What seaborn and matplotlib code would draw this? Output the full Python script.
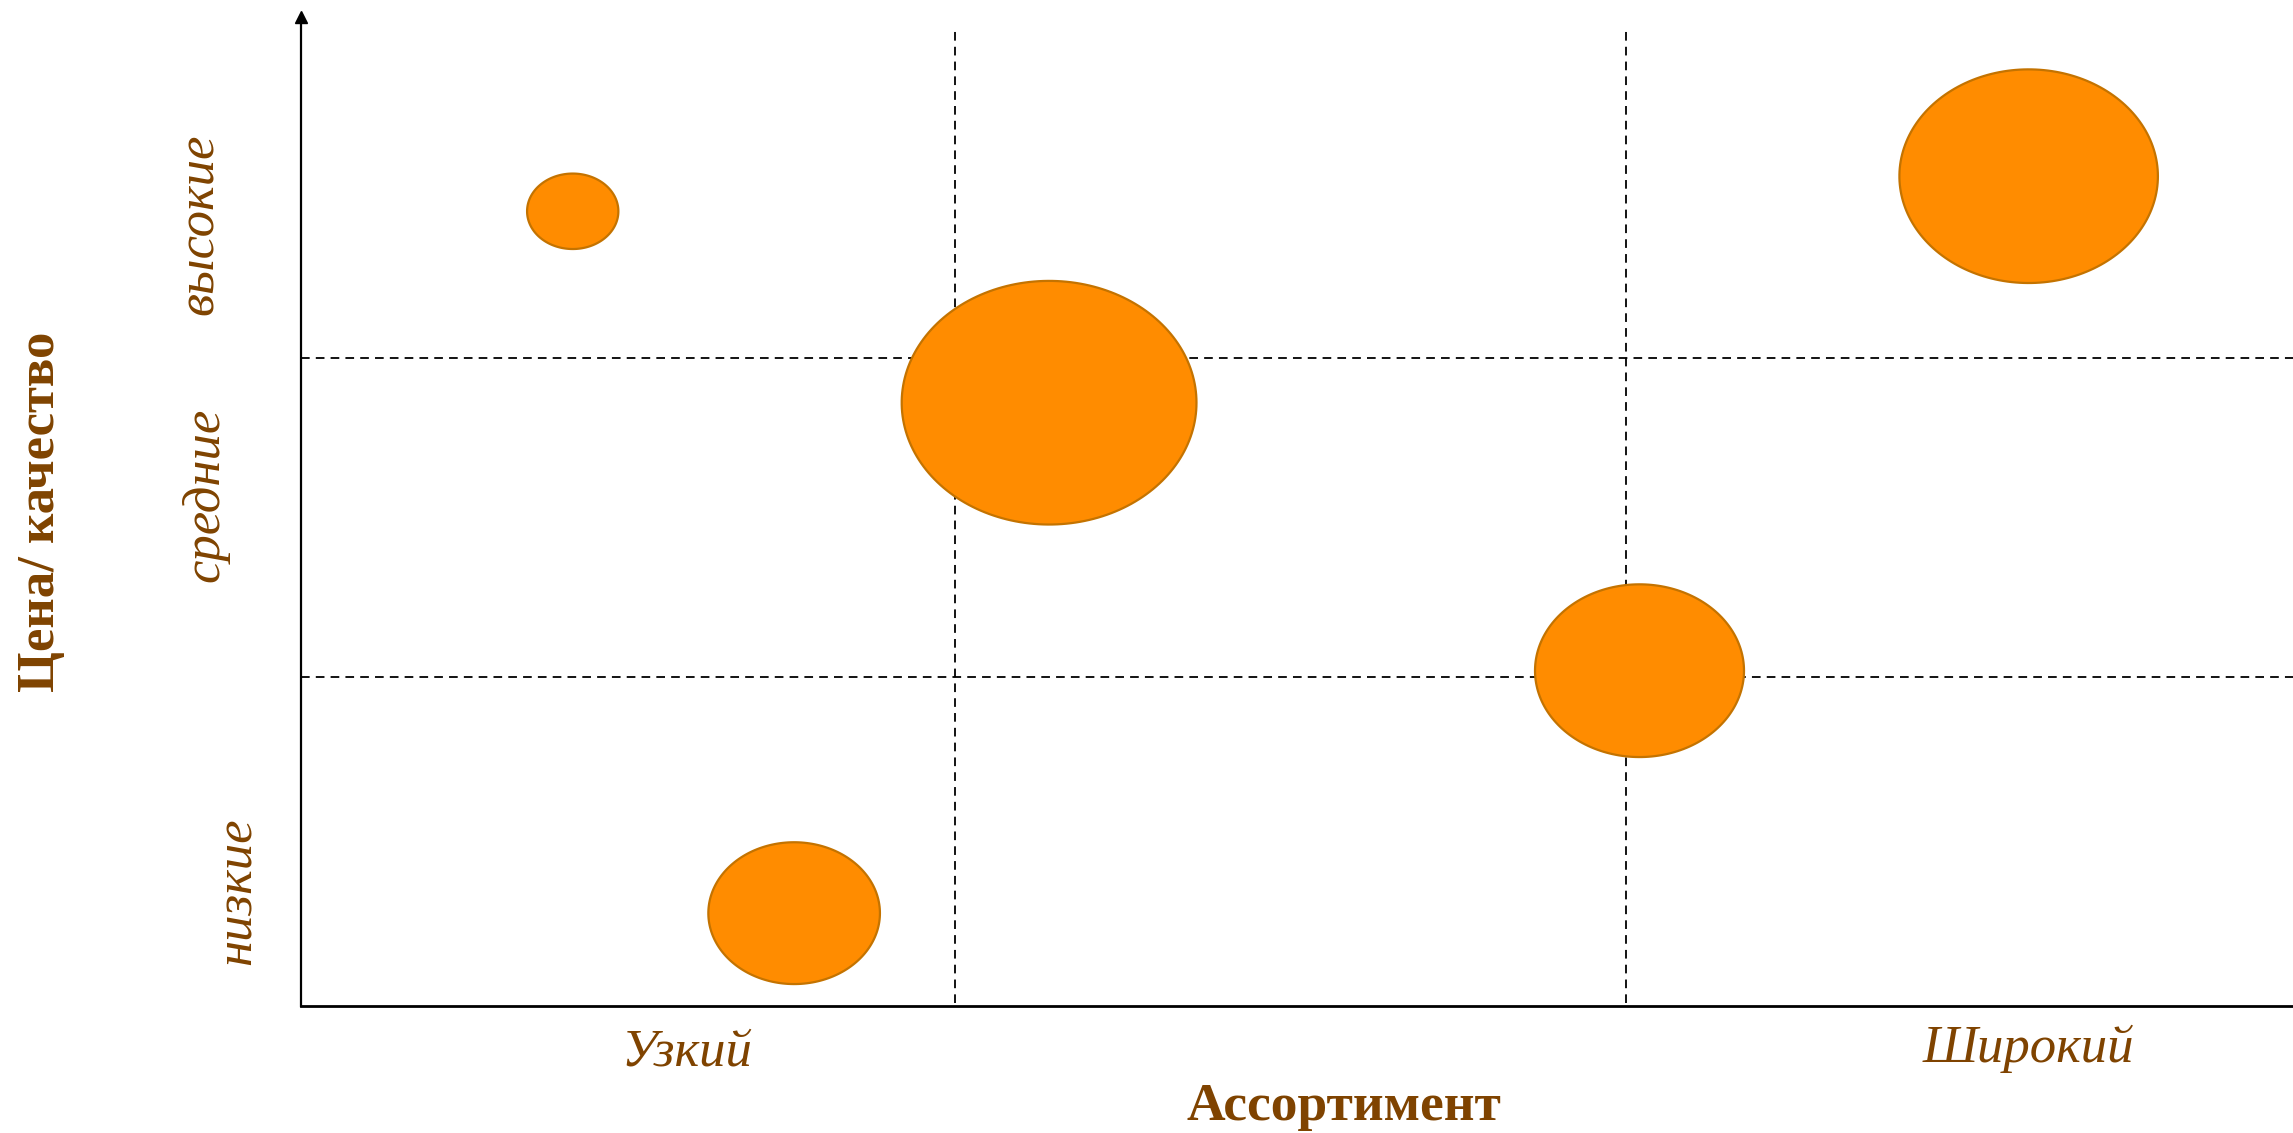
import numpy as np
import pandas as pd
import matplotlib
matplotlib.use("Agg")
import matplotlib.pyplot as plt
from matplotlib.path import Path
from matplotlib.markers import MarkerStyle
from matplotlib.transforms import blended_transform_factory
import seaborn as sns

# ---- data ----
assort_x = [0.43, 1.14, 2.60, 2.02, 0.76]      # Ассортимент (0..3)
price_y = [2.46, 1.86, 2.57, 1.02, 0.26]       # Цена/качество (0..3)
bubble_size = [83, 268, 235, 190, 156]         # relative bubble diameter

x_labels = ["Узкий", "Широкий"]
x_label_pos = [0.60, 2.60]
y_labels = ["низкие", "средние", "высокие"]
y_label_pos = [0.33, 1.57, 2.42]
x_title = "Ассортимент"
y_title = "Цена/ качество"

BROWN = "#7F4300"
FILL = "#FF8C00"
EDGE = "#C47300"

sns.set_theme(style="white")
plt.rcParams["font.family"] = ["Liberation Serif", "DejaVu Serif"]

W, H, DPI = 2293, 1133, 100
fig = plt.figure(figsize=(W / DPI, H / DPI), dpi=DPI)
ax = fig.add_axes([301 / W, (H - 1006) / H, 1 - 301 / W, (1006 - 17) / H])

# ellipse marker
aspect = 1.21
t = np.linspace(0, 2 * np.pi, 200)
verts = np.column_stack([0.5 * np.cos(t), 0.5 / aspect * np.sin(t)])
ell = Path(verts, closed=True)
px2pt = 72 / DPI

df = pd.DataFrame({"x": assort_x, "y": price_y, "v": bubble_size})
df["area"] = (df["v"] * np.sqrt(aspect) * px2pt) ** 2

sns.scatterplot(data=df, x="x", y="y", size="area",
                sizes=(df["area"].min(), df["area"].max()),
                marker=MarkerStyle(ell), color=FILL, edgecolor=EDGE,
                linewidth=1.6, legend=False, ax=ax, zorder=3)

ax.set_xlim(0.025, 2.994)
ax.set_ylim(-0.031, 3.069)

# quadrant dashed lines
for xv in [1.0, 2.0]:
    ax.axvline(xv, ymin=0.003, ymax=0.99, color="black", lw=1.3,
               linestyle=(0, (4.8, 3.4)), zorder=1)
for yv in [1.0, 2.0]:
    ax.axhline(yv, color="black", lw=1.3, linestyle=(0, (4.8, 3.4)), zorder=1)

# spines
for s in ["top", "right"]:
    ax.spines[s].set_visible(False)
ax.spines["left"].set_color("black")
ax.spines["left"].set_linewidth(1.6)
ax.spines["bottom"].set_color("black")
ax.spines["bottom"].set_linewidth(2.0)
ax.plot([0], [1.0], marker="^", color="black", markersize=9,
        transform=ax.transAxes, clip_on=False)

ax.set_xticks([])
ax.set_yticks([])
ax.set_xlabel("")
ax.set_ylabel("")

# category labels
tx = blended_transform_factory(ax.transData, fig.transFigure)
ty = blended_transform_factory(fig.transFigure, ax.transData)
for lab, xp, yy in zip(x_labels, x_label_pos, [1053, 1049]):
    ax.text(xp, 1 - yy / H, lab, transform=tx, ha="center", va="center",
            fontsize=38, style="italic", color=BROWN)
for lab, yp, xx in zip(y_labels, y_label_pos, [238, 205, 200]):
    ax.text(xx / W, yp, lab, transform=ty, ha="center", va="center",
            fontsize=38, style="italic", color=BROWN, rotation=90)

fig.text(1344 / W, 1 - 1107 / H, x_title, ha="center", va="center",
         fontsize=38.5, fontweight="bold", color=BROWN)
fig.text(41 / W, 1 - 512 / H, y_title, ha="center", va="center",
         fontsize=38, fontweight="bold", color=BROWN, rotation=90)

fig.savefig("out.png", dpi=DPI, facecolor="white")
